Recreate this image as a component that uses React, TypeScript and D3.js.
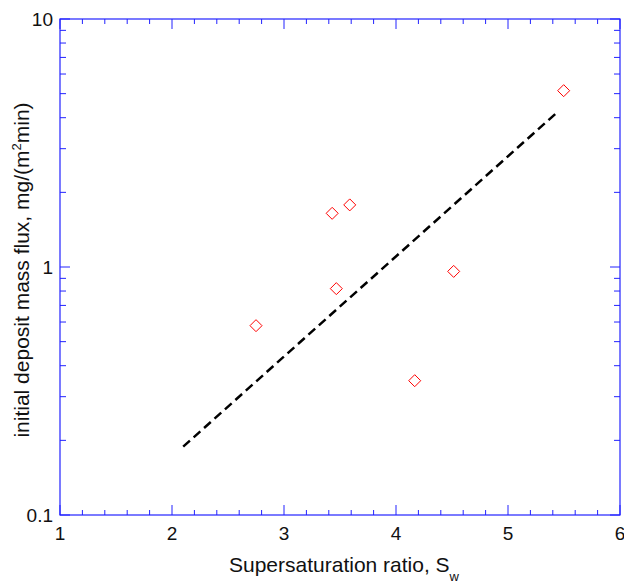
import React from 'react';
import * as d3 from 'd3';

// measured points
const supersat = [2.75, 3.43, 3.587, 3.467, 4.167, 4.515, 5.497];
const massFlux = [0.58, 1.646, 1.78, 0.818, 0.348, 0.96, 5.14];

// dashed fit line (straight on the log axis)
const fitX = [2.1, 5.435];
const fitY = [0.1886, 4.19];

const xTicks = [1, 2, 3, 4, 5, 6];
const yTicks = [0.1, 1, 10];

const W = 624;
const H = 583;
const m = { left: 60, right: 4, top: 19, bottom: 68 };
const axisColor = '#2222ff';
const font = 'Liberation Sans, Arial, sans-serif';

export default function App() {
  const x = d3.scaleLinear().domain([1, 6]).range([m.left, W - m.right]);
  const y = d3.scaleLog().domain([0.1, 10]).range([H - m.bottom, m.top]);

  const [x0, x1] = x.range();
  const [y0, y1] = y.range();

  const xMinor = d3.range(1, 6.001, 0.2).filter(v => Math.abs(v - Math.round(v)) > 1e-6);
  const yMinor: number[] = [];
  [0.1, 1].forEach(dec => {
    for (let k = 2; k <= 9; k++) yMinor.push(dec * k);
  });

  const line = d3.line<number>()
    .x((_, i) => x(fitX[i]))
    .y(d => y(d));

  const diamond = (cx: number, cy: number, r = 6) =>
    `M${cx},${cy - r}L${cx + r},${cy}L${cx},${cy + r}L${cx - r},${cy}Z`;

  return (
    <svg width={W} height={H} style={{ position: 'absolute', left: 0, top: 0, background: '#fff' }}>
      {/* fit line */}
      <path d={line(fitY) || ''} fill="none" stroke="#000" strokeWidth={2.5} strokeDasharray="9,5" />

      {/* data */}
      {supersat.map((s, i) => (
        <path key={i} d={diamond(x(s), y(massFlux[i]))} fill="none" stroke="#ff0000" strokeWidth={1} />
      ))}

      {/* frame */}
      <rect x={x0} y={y1} width={x1 - x0} height={y0 - y1} fill="none" stroke={axisColor} strokeWidth={1.2} />

      {/* x ticks bottom + top */}
      {xTicks.map(t => (
        <g key={'xt' + t}>
          <line x1={x(t)} x2={x(t)} y1={y0} y2={y0 - 10} stroke={axisColor} />
          <line x1={x(t)} x2={x(t)} y1={y1} y2={y1 + 10} stroke={axisColor} />
          <text x={x(t)} y={y0 + 25} textAnchor="middle" fontFamily={font} fontSize={19} fill="#111">{t}</text>
        </g>
      ))}
      {xMinor.map(t => (
        <g key={'xm' + t}>
          <line x1={x(t)} x2={x(t)} y1={y0} y2={y0 - 5} stroke={axisColor} />
          <line x1={x(t)} x2={x(t)} y1={y1} y2={y1 + 5} stroke={axisColor} />
        </g>
      ))}

      {/* y ticks left + right */}
      {yTicks.map(t => (
        <g key={'yt' + t}>
          <line x1={x0} x2={x0 + 10} y1={y(t)} y2={y(t)} stroke={axisColor} />
          <line x1={x1} x2={x1 - 10} y1={y(t)} y2={y(t)} stroke={axisColor} />
          <text x={x0 - 7} y={y(t) + 7} textAnchor="end" fontFamily={font} fontSize={19} fill="#111">{t}</text>
        </g>
      ))}
      {yMinor.map(t => (
        <g key={'ym' + t}>
          <line x1={x0} x2={x0 + 6} y1={y(t)} y2={y(t)} stroke={axisColor} />
          <line x1={x1} x2={x1 - 6} y1={y(t)} y2={y(t)} stroke={axisColor} />
        </g>
      ))}

      {/* axis titles */}
      <text x={(x0 + x1) / 2 + 4} y={572} textAnchor="middle" fontFamily={font} fontSize={21} fill="#111">
        Supersaturation ratio, S<tspan dy={9} fontSize={13}>w</tspan>
      </text>
      <text transform={`translate(29,${(y0 + y1) / 2 + 3}) rotate(-90)`} textAnchor="middle" fontFamily={font} fontSize={21} fill="#111">
        initial deposit mass flux, mg/(m<tspan dy={-8} fontSize={13}>2</tspan><tspan dy={8}>min)</tspan>
      </text>
    </svg>
  );
}
